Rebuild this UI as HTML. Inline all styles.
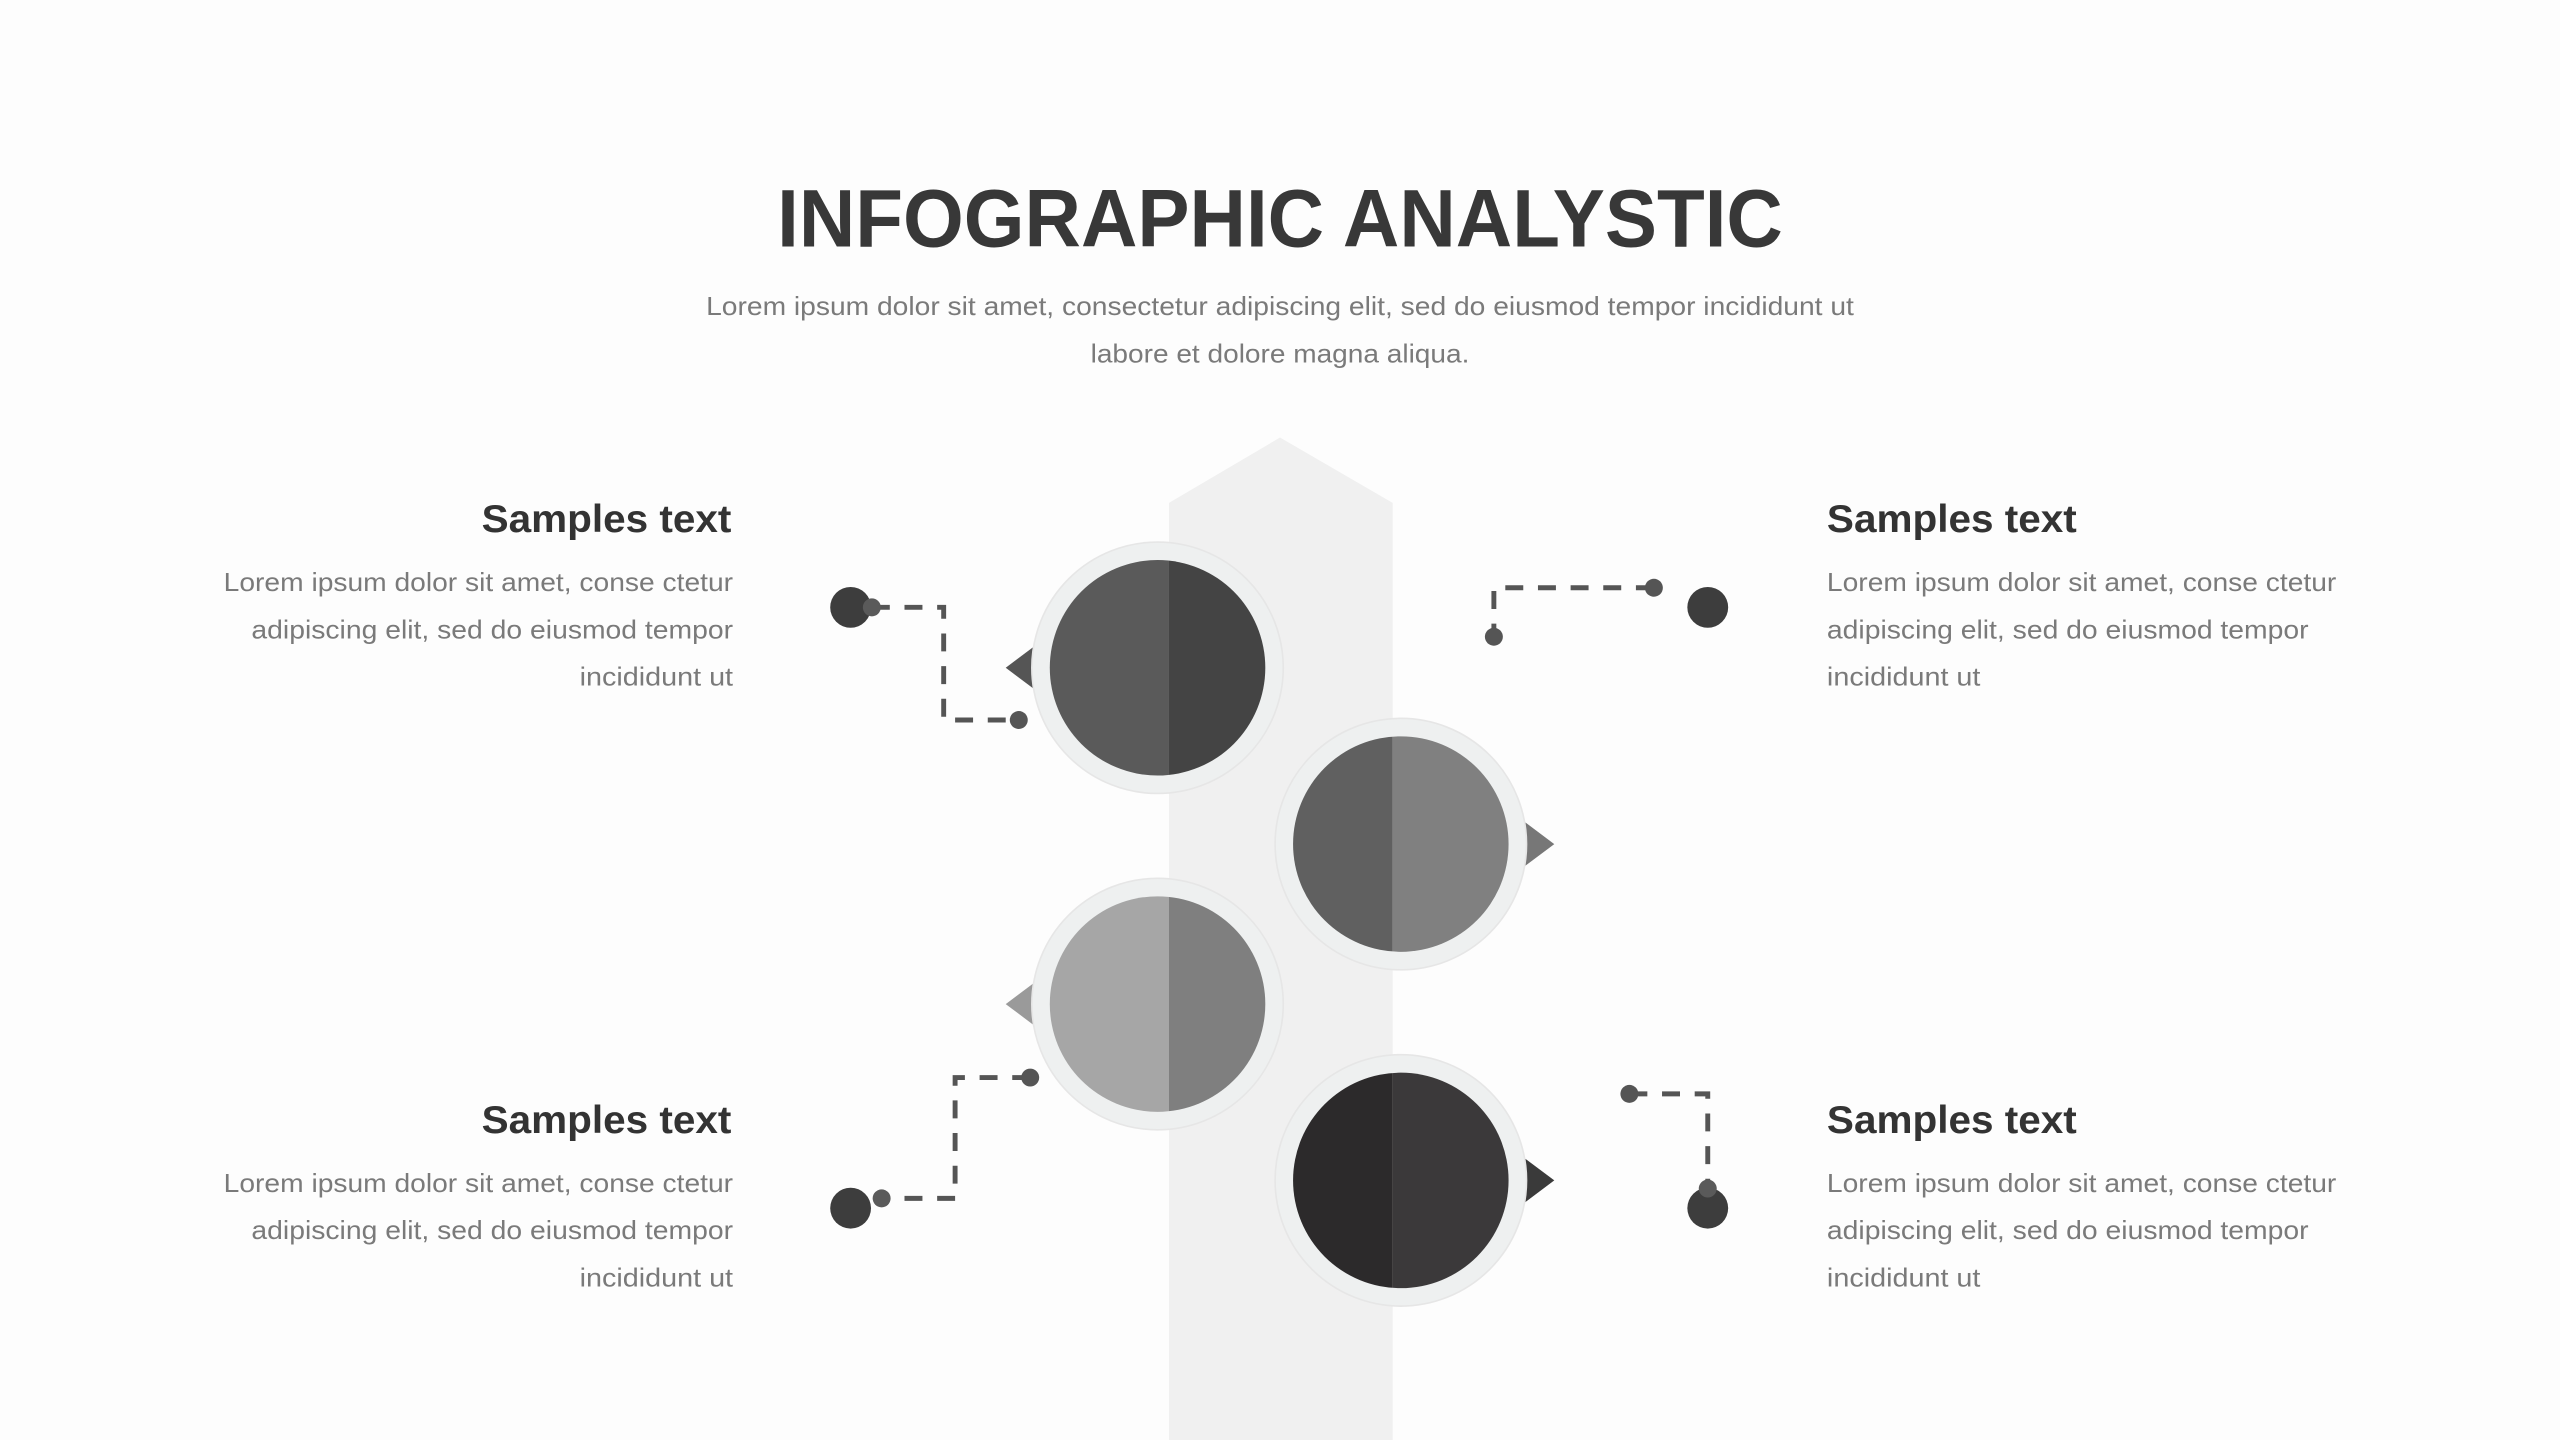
<!DOCTYPE html>
<html><head><meta charset="utf-8"><style>
html,body{margin:0;padding:0;background:#fdfdfd;}
svg{display:block;}
text{font-family:"Liberation Sans",sans-serif;}
</style></head><body>
<svg width="2560" height="1440" viewBox="0 0 1568 882" preserveAspectRatio="none" xmlns="http://www.w3.org/2000/svg">
<defs>
<clipPath id="c1"><circle cx="709" cy="409" r="66"/></clipPath>
<clipPath id="c2"><circle cx="858" cy="517" r="66"/></clipPath>
<clipPath id="c3"><circle cx="709" cy="615" r="66"/></clipPath>
<clipPath id="c4"><circle cx="858" cy="723" r="66"/></clipPath>
</defs>
<rect width="1568" height="882" fill="#fdfdfd"/>
<text x="784" y="151" text-anchor="middle" font-size="50" font-weight="bold" fill="#383838" textLength="616" lengthAdjust="spacingAndGlyphs">INFOGRAPHIC ANALYSTIC</text>
<text x="784" y="193" text-anchor="middle" font-size="16" fill="#7a7a7a" textLength="703" lengthAdjust="spacingAndGlyphs">Lorem ipsum dolor sit amet, consectetur adipiscing elit, sed do eiusmod tempor incididunt ut</text>
<text x="784" y="222" text-anchor="middle" font-size="16" fill="#7a7a7a" textLength="232" lengthAdjust="spacingAndGlyphs">labore et dolore magna aliqua.</text>

<polygon points="716,308 784,268 853,308 853,882 716,882" fill="#f0f0f0"/>

<g stroke="#555" stroke-width="3" stroke-dasharray="11 9" fill="none">
<polyline points="534,372 578,372 578,441 624,441"/>
<polyline points="1013,360 915,360 915,390"/>
<polyline points="631,660 585,660 585,734 540,734"/>
<polyline points="998,670 1046,670 1046,728"/>
</g>
<circle cx="521" cy="372" r="12.5" fill="#3d3d3d"/><circle cx="534" cy="372" r="5.5" fill="#5a5a5a"/><circle cx="624" cy="441" r="5.5" fill="#555"/>
<circle cx="1046" cy="372" r="12.5" fill="#3d3d3d"/><circle cx="1013" cy="360" r="5.5" fill="#555"/><circle cx="915" cy="390" r="5.5" fill="#555"/>
<circle cx="521" cy="740" r="12.5" fill="#3d3d3d"/><circle cx="540" cy="734" r="5.5" fill="#5a5a5a"/><circle cx="631" cy="660" r="5.5" fill="#555"/>
<circle cx="1046" cy="740" r="12.5" fill="#3d3d3d"/><circle cx="1046" cy="728" r="5.5" fill="#5a5a5a"/><circle cx="998" cy="670" r="5.5" fill="#555"/>

<polygon points="616,409 636,394 636,424" fill="#555"/>
<circle cx="709" cy="409" r="77" fill="#eef0f0" stroke="#e6e6e6" stroke-width="1"/>
<g clip-path="url(#c1)"><rect x="640" y="340" width="76" height="140" fill="#5a5a5a"/><rect x="716" y="340" width="80" height="140" fill="#444"/></g>

<polygon points="952,517 932,502 932,532" fill="#777"/>
<circle cx="858" cy="517" r="77" fill="#eef0f0" stroke="#e6e6e6" stroke-width="1"/>
<g clip-path="url(#c2)"><rect x="780" y="440" width="73" height="160" fill="#606060"/><rect x="853" y="440" width="80" height="160" fill="#808080"/></g>

<polygon points="616,615 636,600 636,630" fill="#9a9a9a"/>
<circle cx="709" cy="615" r="77" fill="#eef0f0" stroke="#e6e6e6" stroke-width="1"/>
<g clip-path="url(#c3)"><rect x="640" y="540" width="76" height="150" fill="#a6a6a6"/><rect x="716" y="540" width="80" height="150" fill="#7f7f7f"/></g>

<polygon points="952,723 932,708 932,738" fill="#3a3a3a"/>
<circle cx="858" cy="723" r="77" fill="#eef0f0" stroke="#e6e6e6" stroke-width="1"/>
<g clip-path="url(#c4)"><rect x="780" y="650" width="73" height="150" fill="#2c2a2b"/><rect x="853" y="650" width="80" height="150" fill="#3b393a"/></g>

<g fill="#333" font-weight="bold" font-size="24">
<text x="448" y="326" text-anchor="end" textLength="153" lengthAdjust="spacingAndGlyphs">Samples text</text>
<text x="1119" y="326" textLength="153" lengthAdjust="spacingAndGlyphs">Samples text</text>
<text x="448" y="694" text-anchor="end" textLength="153" lengthAdjust="spacingAndGlyphs">Samples text</text>
<text x="1119" y="694" textLength="153" lengthAdjust="spacingAndGlyphs">Samples text</text>
</g>
<g fill="#7a7a7a" font-size="16">
<text x="449" y="362" text-anchor="end" textLength="312" lengthAdjust="spacingAndGlyphs">Lorem ipsum dolor sit amet, conse ctetur</text>
<text x="449" y="391" text-anchor="end" textLength="295" lengthAdjust="spacingAndGlyphs">adipiscing elit, sed do eiusmod tempor</text>
<text x="449" y="420" text-anchor="end" textLength="94" lengthAdjust="spacingAndGlyphs">incididunt ut</text>
<text x="1119" y="362" textLength="312" lengthAdjust="spacingAndGlyphs">Lorem ipsum dolor sit amet, conse ctetur</text>
<text x="1119" y="391" textLength="295" lengthAdjust="spacingAndGlyphs">adipiscing elit, sed do eiusmod tempor</text>
<text x="1119" y="420" textLength="94" lengthAdjust="spacingAndGlyphs">incididunt ut</text>
<text x="449" y="730" text-anchor="end" textLength="312" lengthAdjust="spacingAndGlyphs">Lorem ipsum dolor sit amet, conse ctetur</text>
<text x="449" y="759" text-anchor="end" textLength="295" lengthAdjust="spacingAndGlyphs">adipiscing elit, sed do eiusmod tempor</text>
<text x="449" y="788" text-anchor="end" textLength="94" lengthAdjust="spacingAndGlyphs">incididunt ut</text>
<text x="1119" y="730" textLength="312" lengthAdjust="spacingAndGlyphs">Lorem ipsum dolor sit amet, conse ctetur</text>
<text x="1119" y="759" textLength="295" lengthAdjust="spacingAndGlyphs">adipiscing elit, sed do eiusmod tempor</text>
<text x="1119" y="788" textLength="94" lengthAdjust="spacingAndGlyphs">incididunt ut</text>
</g>
</svg>
</body></html>
